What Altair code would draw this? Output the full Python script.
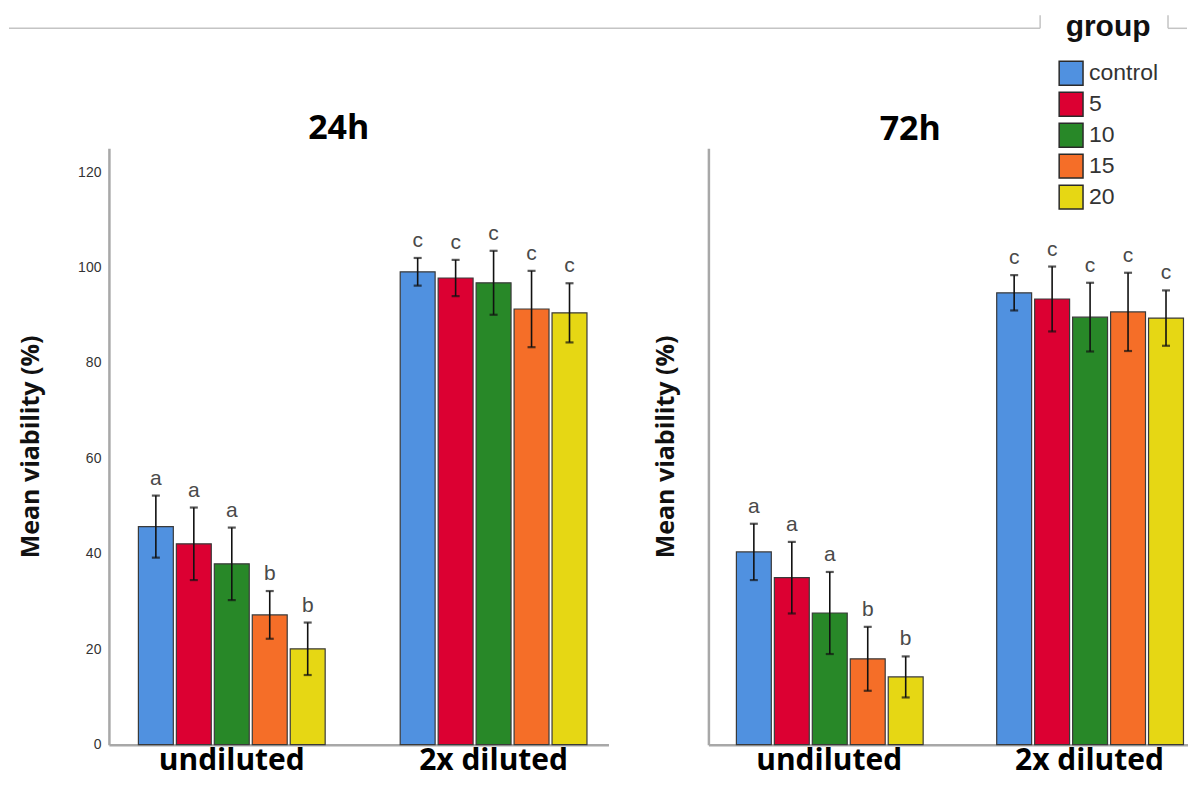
import altair as alt
import pandas as pd

groups = ["control", "5", "10", "15", "20"]
dilutions = ["undiluted", "2x diluted"]
colors = ["#5091e0", "#dc0032", "#288828", "#f56e28", "#e6d714"]

mean_24_undiluted = [45.7, 42.1, 37.9, 27.2, 20.1]
err_24_undiluted = [6.5, 7.6, 7.6, 5.0, 5.5]
mean_24_diluted = [99.1, 97.8, 96.8, 91.3, 90.5]
err_24_diluted = [2.9, 3.8, 6.7, 8.0, 6.2]

mean_72_undiluted = [40.4, 35.0, 27.6, 18.0, 14.2]
err_72_undiluted = [5.9, 7.5, 8.6, 6.7, 4.3]
mean_72_diluted = [94.7, 93.4, 89.6, 90.7, 89.4]
err_72_diluted = [3.7, 6.8, 7.2, 8.2, 5.8]

letters_undiluted = ["a", "a", "a", "b", "b"]
letters_diluted = ["c", "c", "c", "c", "c"]

y_ticks = [0, 20, 40, 60, 80, 100, 120]


def make_df(m_und, e_und, m_dil, e_dil):
    rows = []
    for dil, means, errs, lets in [
        ("undiluted", m_und, e_und, letters_undiluted),
        ("2x diluted", m_dil, e_dil, letters_diluted),
    ]:
        for g, m, e, l in zip(groups, means, errs, lets):
            rows.append({"dilution": dil, "group": g, "mean": m,
                         "lo": m - e, "hi": m + e, "letter": l})
    return pd.DataFrame(rows)


df24 = make_df(mean_24_undiluted, err_24_undiluted, mean_24_diluted, err_24_diluted)
df72 = make_df(mean_72_undiluted, err_72_undiluted, mean_72_diluted, err_72_diluted)

BOLD = "Open Sans"
PLAIN = "Liberation Sans"
AXIS_GREY = "#a8a8a8"

legend = alt.Legend(
    title="group", orient="none", legendX=950, legendY=-136,
    symbolType="square", symbolSize=570, symbolStrokeColor="#2a2a2a",
    symbolStrokeWidth=1.5, labelFont=PLAIN, labelFontSize=23, labelColor="#333333",
    titleFont=PLAIN, titleFontSize=30, titleFontWeight="bold", titleColor="#111111",
    titleAnchor="middle", titlePadding=18, rowPadding=1, labelOffset=5,
)


def panel(df, title, width, pad_outer, align, title_dx, title_dy, show_labels,
          title_padding, extra_layers=()):
    x = alt.X("dilution:N", sort=dilutions,
              scale=alt.Scale(paddingInner=0.275, paddingOuter=pad_outer, align=align),
              axis=alt.Axis(title=None, labelAngle=0, labelFont=BOLD, labelFontSize=30,
                            labelFontWeight="bold", labelColor="#000000", ticks=False,
                            domainColor=AXIS_GREY, domainWidth=2.5, labelPadding=1))
    xo = alt.XOffset("group:N", sort=groups,
                     scale=alt.Scale(paddingInner=0.08, paddingOuter=0.04))
    y_axis = alt.Axis(title="Mean viability (%)", values=y_ticks, labels=show_labels,
                      ticks=False, grid=False, domainColor=AXIS_GREY, domainWidth=2.5,
                      labelFont=PLAIN, labelFontSize=14, labelColor="#333333",
                      labelPadding=8, titleFont=BOLD, titleFontSize=25,
                      titleFontWeight="bold", titleColor="#111111",
                      titlePadding=title_padding)
    y = alt.Y("mean:Q", scale=alt.Scale(domain=[0, 125], nice=False), axis=y_axis)

    base = alt.Chart(df)
    bars = base.mark_bar(stroke="#3a3a3a", strokeWidth=1.2).encode(
        x=x, xOffset=xo, y=y,
        color=alt.Color("group:N", scale=alt.Scale(domain=groups, range=colors),
                        legend=legend),
    )
    err = base.mark_rule(color="#111111", strokeWidth=1.6).encode(
        x=x, xOffset=xo, y="lo:Q", y2="hi:Q")
    cap_lo = base.mark_tick(color="#111111", thickness=2.2, size=8).encode(
        x=x, xOffset=xo, y="lo:Q")
    cap_hi = base.mark_tick(color="#111111", thickness=2.2, size=8).encode(
        x=x, xOffset=xo, y="hi:Q")
    letters = base.mark_text(baseline="alphabetic", dy=-11, fontSize=21, font=PLAIN,
                             color="#4a4a4a").encode(
        x=x, xOffset=xo, y="hi:Q", text="letter:N")
    layers = [bars, err, cap_lo, cap_hi, letters] + list(extra_layers)
    return alt.layer(*layers).properties(
        width=width, height=597,
        title=alt.TitleParams(text=title, font=BOLD, fontSize=34, fontWeight="bold",
                              color="#000000", anchor="middle", dx=title_dx,
                              dy=title_dy, offset=1),
    )


one = pd.DataFrame({"k": [0]})
frame_color = "#c4c4c4"
frame = [
    alt.Chart(one).mark_rule(color=frame_color, strokeWidth=1.5).encode(
        x=alt.value(-100), x2=alt.value(932), y=alt.value(-120)),
    alt.Chart(one).mark_rule(color=frame_color, strokeWidth=1.5).encode(
        x=alt.value(1060), x2=alt.value(1079), y=alt.value(-120)),
    alt.Chart(one).mark_rule(color=frame_color, strokeWidth=1.5).encode(
        x=alt.value(932), y=alt.value(-133), y2=alt.value(-120)),
    alt.Chart(one).mark_rule(color=frame_color, strokeWidth=1.5).encode(
        x=alt.value(1060), y=alt.value(-133), y2=alt.value(-120)),
]

left = panel(df24, "24h", 500, 0.0916, 0.583, -20, 133, True, 34, frame)
right = panel(df72, "72h", 480, 0.0587, 0.866, -38, 0, False, 30)

chart = alt.hconcat(left, right, spacing=100, bounds="flush").properties(
    padding={"left": 0, "top": 4, "right": 0, "bottom": 3}
).configure_view(stroke=None).configure_concat(spacing=100)

chart.save("out.html", embed_options={"renderer": "svg", "actions": False})
